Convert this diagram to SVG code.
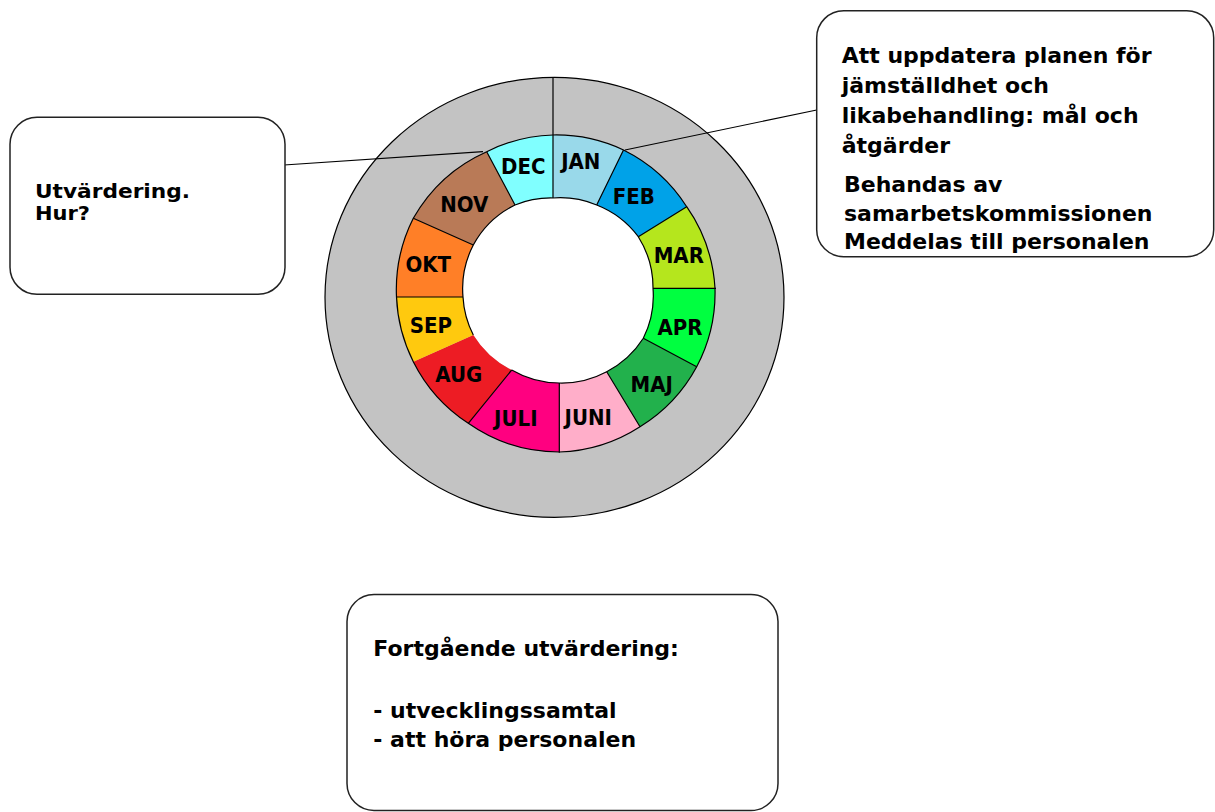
<svg xmlns="http://www.w3.org/2000/svg" width="1215" height="812" viewBox="0 0 1215 812">
<style>
.box{fill:#fff;stroke:#222;stroke-width:1.5}
.t{font-family:"DejaVu Sans","Verdana",sans-serif;font-weight:bold;font-size:22px;fill:#000}
.s{font-size:19px}
.m{font-family:"DejaVu Sans Condensed","DejaVu Sans",sans-serif;font-stretch:condensed;font-weight:bold;font-size:22px;fill:#000;text-anchor:middle}
.ln{fill:none;stroke:#000;stroke-width:1.2}
.w{stroke:none}
</style>
<rect width="1215" height="812" fill="#fff"/>
<g id="wheel">
<ellipse cx="554.5" cy="297.3" rx="229.5" ry="220" fill="#c3c3c3" stroke="#000" stroke-width="1.2"/>
<path fill="#fff" stroke="none" d="M553,198 A95,95 0 0 1 596.7,205 A95,95 0 0 1 638.3,236.7 A95,95 0 0 1 653,288.3 A95,95 0 0 1 643.3,338.3 A95,95 0 0 1 606.7,371.7 A95,95 0 0 1 559.3,383 A95,95 0 0 1 511.7,370 A95,95 0 0 1 473.3,335 A95,95 0 0 1 463,297 A95,95 0 0 1 473.3,245 A95,95 0 0 1 515,205 A95,95 0 0 1 553,198 Z"/>
<g id="jan"><path class="w" fill="#99d9ea" d="M553,135 A158.5,158.5 0 0 1 623.5,150 L596.7,205 A95,95 0 0 0 553,198 Z"/><text class="m" x="580.8" y="169.3">JAN</text></g>
<g id="feb"><path class="w" fill="#00a2e8" d="M623.5,150 A158.5,158.5 0 0 1 686.7,206.7 L638.3,236.7 A95,95 0 0 0 596.7,205 Z"/><text class="m" x="633.7" y="204">FEB</text></g>
<g id="mar"><path class="w" fill="#b5e61d" d="M686.7,206.7 A158.5,158.5 0 0 1 715,288.3 L653,288.3 A95,95 0 0 0 638.3,236.7 Z"/><text class="m" x="678.8" y="263.3">MAR</text></g>
<g id="apr"><path class="w" fill="#00ff40" d="M715,288.3 A158.5,158.5 0 0 1 696.7,366.7 L643.3,338.3 A95,95 0 0 0 653,288.3 Z"/><text class="m" x="680" y="335">APR</text></g>
<g id="maj"><path class="w" fill="#22b14c" d="M696.7,366.7 A158.5,158.5 0 0 1 640,426.7 L606.7,371.7 A95,95 0 0 0 643.3,338.3 Z"/><text class="m" x="651.7" y="391.7">MAJ</text></g>
<g id="juni"><path class="w" fill="#ffaec9" d="M640,426.7 A158.5,158.5 0 0 1 559.3,452 L559.3,383 A95,95 0 0 0 606.7,371.7 Z"/><text class="m" x="588.3" y="425">JUNI</text></g>
<g id="juli"><path class="w" fill="#ff0080" d="M559.3,452 A158.5,158.5 0 0 1 468.3,423.3 L511.7,370 A95,95 0 0 0 559.3,383 Z"/><text class="m" x="515.8" y="426">JULI</text></g>
<g id="aug"><path class="w" fill="#ed1c24" d="M468.3,423.3 A158.5,158.5 0 0 1 413.3,361.7 L473.3,335 A95,95 0 0 0 511.7,370 Z"/><text class="m" x="458.8" y="382.3">AUG</text></g>
<g id="sep"><path class="w" fill="#ffc90e" d="M413.3,361.7 A158.5,158.5 0 0 1 396.5,297 L463,297 A95,95 0 0 0 473.3,335 Z"/><text class="m" x="430.8" y="333.3">SEP</text></g>
<g id="okt"><path class="w" fill="#ff7f27" d="M396.5,297 A158.5,158.5 0 0 1 413.3,218.3 L473.3,245 A95,95 0 0 0 463,297 Z"/><text class="m" x="428.3" y="272.3">OKT</text></g>
<g id="nov"><path class="w" fill="#b97a57" d="M413.3,218.3 A158.5,158.5 0 0 1 486.7,151.7 L515,205 A95,95 0 0 0 473.3,245 Z"/><text class="m" x="464.2" y="211.7">NOV</text></g>
<g id="dec"><path class="w" fill="#80ffff" d="M486.7,151.7 A158.5,158.5 0 0 1 553,135 L553,198 A95,95 0 0 0 515,205 Z"/><text class="m" x="523.3" y="174">DEC</text></g>
<path class="ln" d="M553,135 A158.5,158.5 0 0 1 623.5,150 A158.5,158.5 0 0 1 686.7,206.7 A158.5,158.5 0 0 1 715,288.3 A158.5,158.5 0 0 1 696.7,366.7 A158.5,158.5 0 0 1 640,426.7 A158.5,158.5 0 0 1 559.3,452 A158.5,158.5 0 0 1 468.3,423.3 A158.5,158.5 0 0 1 413.3,361.7 A158.5,158.5 0 0 1 396.5,297 A158.5,158.5 0 0 1 413.3,218.3 A158.5,158.5 0 0 1 486.7,151.7 A158.5,158.5 0 0 1 553,135"/>
<path class="ln" d="M473.3,335 A95,95 0 0 1 463,297 A95,95 0 0 1 473.3,245 A95,95 0 0 1 515,205 A95,95 0 0 1 553,198 A95,95 0 0 1 596.7,205 A95,95 0 0 1 638.3,236.7 A95,95 0 0 1 653,288.3 A95,95 0 0 1 643.3,338.3 A95,95 0 0 1 606.7,371.7 A95,95 0 0 1 559.3,383 A95,95 0 0 1 511.7,370"/>
<path class="ln" d="M553,77.3 L553,198 M623.5,150 L596.7,205 M686.7,206.7 L638.3,236.7 M716,288.3 L653,288.3 M696.7,366.7 L643.3,338.3 M640,426.7 L606.7,371.7 M559.3,452.7 L559.3,383 M468.3,423.3 L511.7,370 M396.5,297 L463,297 M413.3,218.3 L473.3,245 M486.7,151.7 L515,205"/>
</g>
<g id="connectors">
<line class="ln" x1="284" y1="165" x2="483" y2="151.7"/>
<line class="ln" x1="625" y1="150" x2="816.7" y2="110"/>
</g>
<g id="box-left">
<rect class="box" x="10" y="117.3" width="275" height="177" rx="27" ry="27"/>
<text class="t s" x="35" y="198.3" textLength="155" lengthAdjust="spacingAndGlyphs">Utvärdering.</text>
<text class="t s" x="35" y="220.3" textLength="55" lengthAdjust="spacingAndGlyphs">Hur?</text>
</g>
<g id="box-right">
<rect class="box" x="816.7" y="10.7" width="397" height="246" rx="27" ry="27"/>
<text class="t" x="841.7" y="63.3">Att uppdatera planen för</text>
<text class="t" x="841.7" y="93.3">jämställdhet och</text>
<text class="t" x="841.7" y="123.3">likabehandling: mål och</text>
<text class="t" x="841.7" y="153.3">åtgärder</text>
<text class="t" x="844" y="192.3">Behandas av</text>
<text class="t" x="844" y="221">samarbetskommissionen</text>
<text class="t" x="844" y="249.3">Meddelas till personalen</text>
</g>
<g id="box-bottom">
<rect class="box" x="347" y="594.5" width="431" height="216" rx="27" ry="27"/>
<text class="t" x="373.3" y="655.7">Fortgående utvärdering:</text>
<text class="t" x="373.3" y="718.3">- utvecklingssamtal</text>
<text class="t" x="373.3" y="746.7">- att höra personalen</text>
</g>
</svg>
